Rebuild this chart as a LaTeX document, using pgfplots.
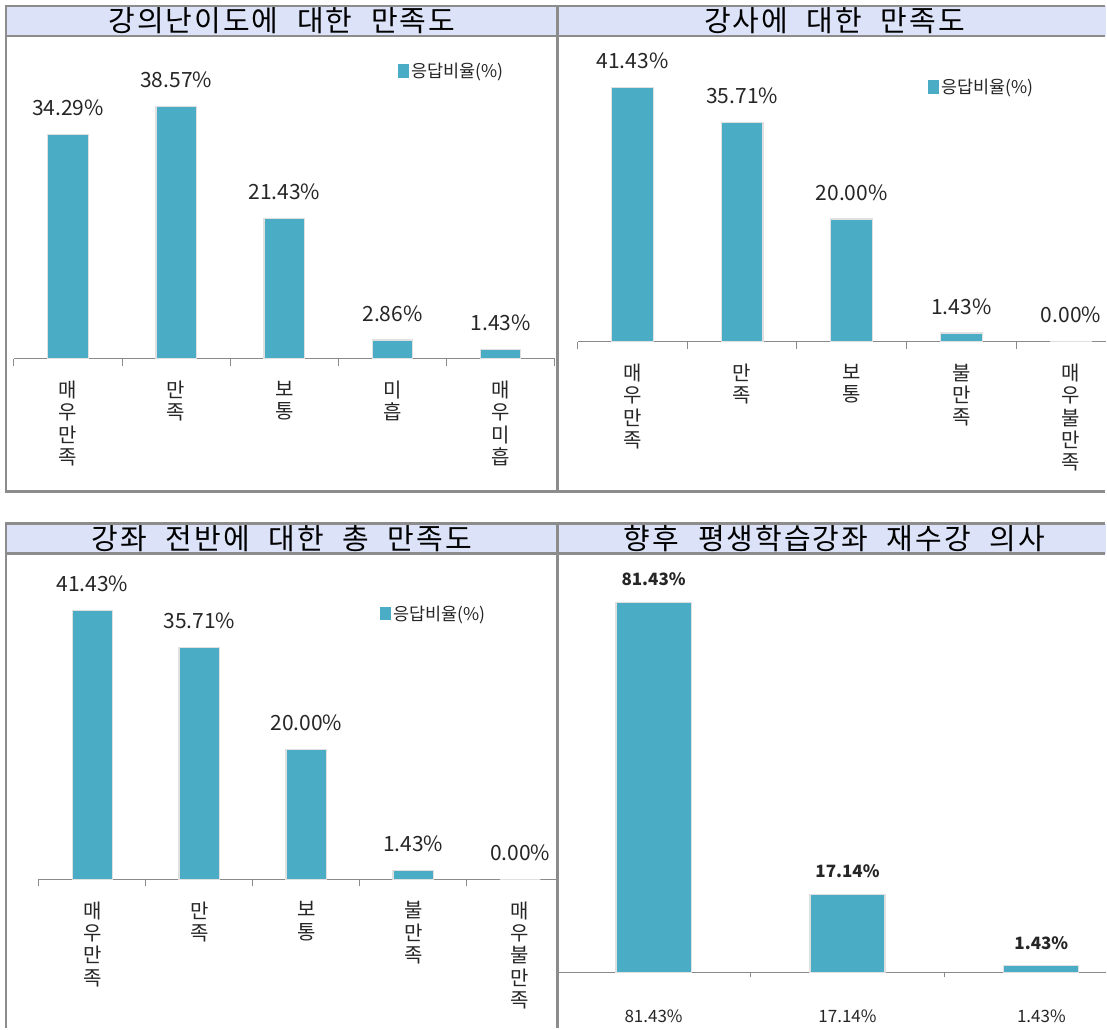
\documentclass[border=0pt]{standalone}
\usepackage{fontspec}
\usepackage{pgfplots}
\pgfplotsset{compat=1.18}
\newfontfamily\kr{Noto Sans CJK KR}
\newfontfamily\krt[WordSpace=2.2,LetterSpace=7]{Noto Sans CJK KR}
\definecolor{barc}{HTML}{4BACC6}
\definecolor{hdr}{HTML}{DCE3F8}
\definecolor{frm}{HTML}{8C8C8C}
\definecolor{axc}{HTML}{8A8A8A}
\definecolor{txt}{HTML}{262626}

\pgfplotsset{
  panel/.style={
    scale only axis, clip=false,
    ybar, bar shift=0pt,
    axis y line=none,
    axis x line*=bottom,
    x axis line style={draw=axc, line width=1.4pt},
    enlarge x limits=false,
    ymin=0,
    major tick length=0pt,
    minor tick length=7pt,
    tick align=outside,
    minor tick style={draw=axc, line width=1pt},
    xticklabel style={align=center, anchor=north, inner sep=0pt, yshift=-22pt,
      font=\kr\fontsize{20}{22.3}\selectfont, text=txt},
    nodes near coords={\pgfmathprintnumber[fixed,fixed zerofill,precision=2,assume math mode=true]{\pgfplotspointmeta}\%},
    nodes near coords style={font=\kr\fontsize{21}{24}\selectfont, text=txt, inner sep=0pt, yshift=18pt},
    legend image code/.code={\fill[barc] (0pt,-6pt) rectangle (10pt,6pt);},
    legend style={draw=none, fill=none, inner sep=0pt, anchor=west,
      font=\kr\fontsize{17.5}{19}\selectfont, text=txt,
      /tikz/every even column/.append style={column sep=1pt}},
  },
  barstyle/.style={fill=barc, draw=black!12, line width=1.2pt},
}

\begin{document}
\begin{tikzpicture}[x=1pt,y=1pt]
\fill[white] (0,0) rectangle (1107,1030);

% Panel 1
\begin{axis}[panel, at={(14pt,671pt)}, anchor=south west,
  width=541pt, height=294.75pt, xmin=-0.5, xmax=4.5, ymax=45,
  bar width=0.375,
  xtick={0,1,2,3,4},
  minor xtick={-0.5,0.5,1.5,2.5,3.5,4.5},
  xticklabels={{매\\우\\만\\족},{만\\족},{보\\통},{미\\흡},{매\\우\\미\\흡}},
  legend style={at={(0.71,0.977)}}]
\addplot[barstyle] coordinates {(0,34.29) (1,38.57) (2,21.43) (3,2.86) (4,1.43)};
\addlegendentry{응답비율(\%)}
\end{axis}

% Panel 2
\begin{axis}[panel, at={(578pt,688pt)}, anchor=south west,
  width=529pt, height=276.3pt, xmin=-0.5, xmax=4.322, ymax=45,
  bar width=0.383,
  xtick={0,1,2,3,4},
  minor xtick={-0.5,0.5,1.5,2.5,3.5},
  xticklabels={{매\\우\\만\\족},{만\\족},{보\\통},{불\\만\\족},{매\\우\\불\\만\\족}},
  legend style={at={(0.662,0.923)}}]
\addplot[barstyle] coordinates {(0,41.43) (1,35.71) (2,20.00) (3,1.43) (4,0.00)};
\addlegendentry{응답비율(\%)}
\end{axis}

% Panel 3
\begin{axis}[panel, at={(39pt,150pt)}, anchor=south west,
  width=517pt, height=292.5pt, xmin=-0.5, xmax=4.332, ymax=45,
  bar width=0.38,
  xtick={0,1,2,3,4},
  minor xtick={-0.5,0.5,1.5,2.5,3.5},
  xticklabels={{매\\우\\만\\족},{만\\족},{보\\통},{불\\만\\족},{매\\우\\불\\만\\족}},
  legend style={at={(0.66,0.909)}}]
\addplot[barstyle] coordinates {(0,41.43) (1,35.71) (2,20.00) (3,1.43) (4,0.00)};
\addlegendentry{응답비율(\%)}
\end{axis}

% Panel 4
\begin{axis}[panel, at={(557pt,57pt)}, anchor=south west,
  width=550pt, height=409.5pt, xmin=-0.5, xmax=2.335, ymax=90,
  bar width=0.387,
  xtick={0,1,2},
  minor xtick={-0.5,0.5,1.5},
  minor tick length=5pt,
  xticklabels={81.43\%,17.14\%,1.43\%},
  xticklabel style={font=\kr\fontsize{17}{19}\selectfont, yshift=-15pt},
  nodes near coords style={font=\kr\bfseries\fontsize{17}{19}\selectfont, yshift=-2pt}]
\addplot[barstyle] coordinates {(0,81.43) (1,17.14) (2,1.43)};
\end{axis}

% Frames
\fill[hdr] (6,994) rectangle (1107,1024);
\fill[hdr] (6,476) rectangle (1107,506);
\begin{scope}[draw=frm, line width=2.5pt]
\draw (1105.75,1024) -- (6,1024) -- (6,538) -- (1105.75,538);
\draw (6,994) -- (1105.75,994);
\draw (558,538) -- (558,1024);
\draw (6,1.25) -- (6,506) -- (1105.75,506);
\draw (6,476) -- (1105.75,476);
\draw (558,1.25) -- (558,506);
\end{scope}

% Titles
\begin{scope}[every node/.style={font=\krt\fontsize{29}{32}\selectfont, text=black, inner sep=0pt}]
\node at (282,1009) {강의난이도에 대한 만족도};
\node at (835,1009) {강사에 대한 만족도};
\node at (282,491) {강좌 전반에 대한 총 만족도};
\node at (835,491) {향후 평생학습강좌 재수강 의사};
\end{scope}
\end{tikzpicture}
\end{document}
